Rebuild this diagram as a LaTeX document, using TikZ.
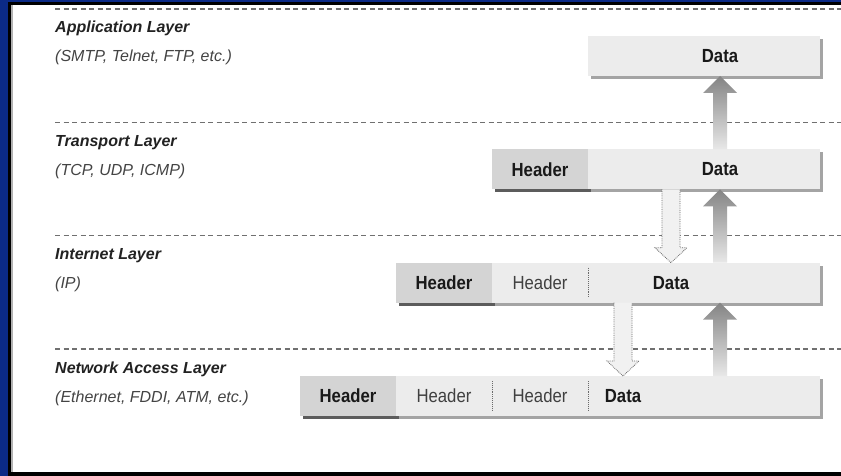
\documentclass[tikz,border=0pt]{standalone}
\usepackage{fontspec}
\setmainfont{Liberation Sans}
\newfontfamily\narrowsf[FakeStretch=0.88]{Liberation Sans}
\usetikzlibrary{positioning, calc, shadows}
\definecolor{framenavy}{HTML}{0B2A86}
\definecolor{rulegray}{HTML}{707070}
\definecolor{hdrfill}{HTML}{D4D4D4}
\definecolor{hdrshade}{HTML}{5C5C5C}
\definecolor{pktfill}{HTML}{ECECEC}
\definecolor{pktshade}{HTML}{A4A4A4}
\definecolor{liftdark}{HTML}{848484}
\definecolor{liftlight}{HTML}{E8E8E8}
\definecolor{dropfill}{HTML}{F1F1F1}
\definecolor{dropline}{HTML}{6A6A6A}
\definecolor{labelink}{HTML}{222222}
\definecolor{subink}{HTML}{444444}

% solid shaded arrow going up, and dotted arrow going down
\newcommand{\liftarrow}[2]{%
  \shade[top color=liftdark, bottom color=liftlight]
    ($(#1)+(-7,0)$) -- ($(#2)+(-7,17)$) -- ($(#2)+(-17,17)$) -- (#2)
    -- ($(#2)+(17,17)$) -- ($(#2)+(7,17)$) -- ($(#1)+(7,0)$) -- cycle;}
\newcommand{\droparrow}[2]{%
  \fill[dropfill]
    ($(#1)+(-9,0)$) -- ($(#2)+(-9,-15)$) -- ($(#2)+(-16,-15)$) -- (#2)
    -- ($(#2)+(16,-15)$) -- ($(#2)+(9,-15)$) -- ($(#1)+(9,0)$) -- cycle;
  \draw[dropline, densely dotted, line width=0.8pt]
    ($(#1)+(-9,0)$) -- ($(#2)+(-9,-15)$) -- ($(#2)+(-16,-15)$) -- (#2)
    -- ($(#2)+(16,-15)$) -- ($(#2)+(9,-15)$) -- ($(#1)+(9,0)$);}

\begin{document}
\begin{tikzpicture}[x=1pt, y=-1pt,
    seg/.style={anchor=north west, minimum height=40pt, inner sep=0pt,
      outer sep=0pt},
    hdrdark/.style={seg, fill=hdrfill, minimum width=96pt, text=black!90,
      font=\narrowsf\bfseries\fontsize{19}{22}\selectfont,
      general shadow={fill=hdrshade, shadow xshift=3pt, shadow yshift=-3pt}},
    hdrlight/.style={seg, fill=pktfill, minimum width=96pt, text=black!75,
      font=\narrowsf\fontsize{19}{22}\selectfont,
      general shadow={fill=pktshade, shadow xshift=3pt, shadow yshift=-3pt}},
    pktdata/.style={seg, fill=pktfill, minimum width=232pt,
      general shadow={fill=pktshade, shadow xshift=3pt, shadow yshift=-3pt}},
    datalbl/.style={text=black!90, inner sep=0pt,
      font=\narrowsf\bfseries\fontsize{19}{22}\selectfont},
    seam/.style={dropline, densely dotted, line width=0.9pt,
      shorten <=5pt, shorten >=5pt},
    sepline/.style={rulegray, line width=1.1pt, dash pattern=on 5pt off 3.5pt},
    layername/.style={anchor=base west, inner sep=0pt, text=labelink,
      font=\fontsize{16}{19}\selectfont\bfseries\itshape},
    layerproto/.style={anchor=base west, inner sep=0pt, text=subink,
      font=\fontsize{16}{19}\selectfont\itshape}
  ]
  \useasboundingbox (0,0) rectangle (841,476);
  % frame
  \fill[framenavy] (0,0) rectangle (841,476);
  \fill[black] (8,2) rectangle (841,476);
  \fill[black!30] (11,5) rectangle (841,472);
  \fill[white] (13,5) rectangle (841,472);

  \foreach \d in {9,122.3,235.7,349}
    \draw[sepline] (55,\d) -- (841,\d);

  % layer names
  \node[layername] (appname) at (55,33) {Application Layer};
  \node[layerproto] (appproto) at ([yshift=-29pt]appname.base west)
    {(SMTP, Telnet, FTP, etc.)};
  \node[layername] (trname) at (55,146.3) {Transport Layer};
  \node[layerproto] (trproto) at ([yshift=-29pt]trname.base west)
    {(TCP, UDP, ICMP)};
  \node[layername] (intname) at (55,259.7) {Internet Layer};
  \node[layerproto] (intproto) at ([yshift=-29pt]intname.base west) {(IP)};
  \node[layername] (netname) at (55,373) {Network Access Layer};
  \node[layerproto] (netproto) at ([yshift=-29pt]netname.base west)
    {(Ethernet, FDDI, ATM, etc.)};

  \coordinate (liftcol) at (720,0);
  \coordinate (dropcolA) at (671,0);
  \coordinate (dropcolB) at (623,0);

  % packets
  \node[pktdata] (appdata) at (588,36) {};

  \node[hdrdark] (trhdr) at (492,149.3) {Header};
  \node[pktdata, right=0pt of trhdr] (trdata) {};

  \node[hdrdark] (inthdr) at (396,262.7) {Header};
  \node[hdrlight, right=0pt of inthdr] (intip) {Header};
  \node[pktdata, right=0pt of intip] (intdata) {};

  \node[hdrdark] (nethdr) at (300,376) {Header};
  \node[hdrlight, right=0pt of nethdr] (netip) {Header};
  \node[hdrlight, right=0pt of netip] (nettcp) {Header};
  \node[pktdata, right=0pt of nettcp] (netdata) {};

  \draw[seam] (intip.north east) -- (intip.south east);
  \draw[seam] (netip.north east) -- (netip.south east);
  \draw[seam] (nettcp.north east) -- (nettcp.south east);

  \node[datalbl] (apptxt) at (appdata.center -| liftcol) {Data};
  \node[datalbl] (trtxt) at (trdata.center -| liftcol) {Data};
  \node[datalbl] (inttxt) at (intdata.center -| dropcolA) {Data};
  \node[datalbl] (nettxt) at (netdata.center -| dropcolB) {Data};

  % arrows between layers
  \liftarrow{trdata.north -| liftcol}{appdata.south -| liftcol}
  \liftarrow{intdata.north -| liftcol}{trdata.south -| liftcol}
  \liftarrow{netdata.north -| liftcol}{intdata.south -| liftcol}
  \droparrow{trdata.south -| inttxt}{intdata.north -| inttxt}
  \droparrow{intdata.south -| nettxt}{netdata.north -| nettxt}
\end{tikzpicture}
\end{document}
